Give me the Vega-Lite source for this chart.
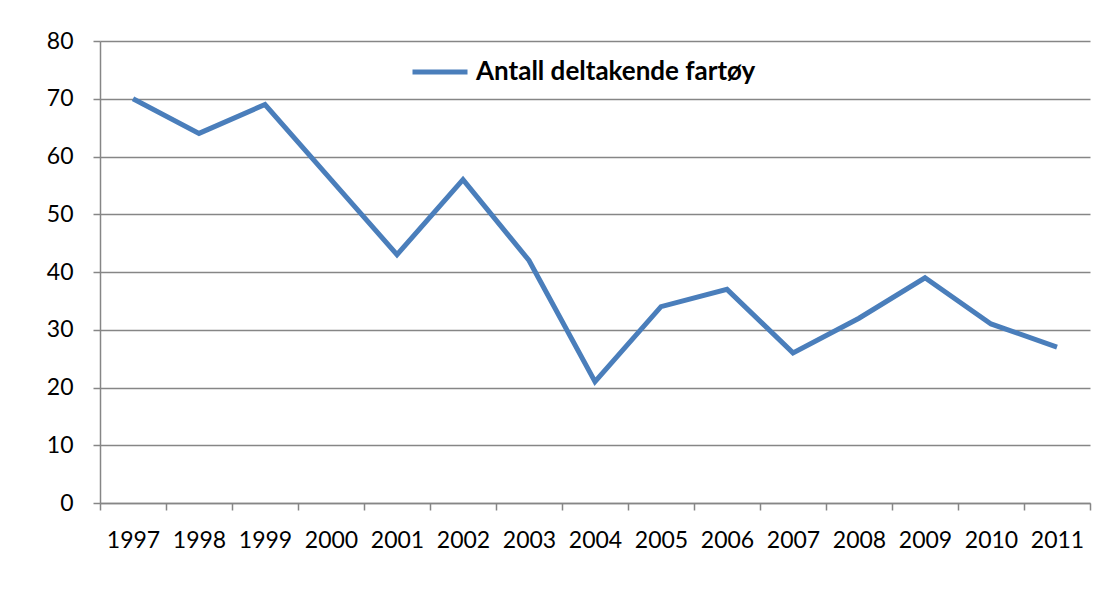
{
  "$schema": "https://vega.github.io/schema/vega-lite/v6.json",
  "autosize": "none",
  "width": 990,
  "height": 462,
  "padding": {"left": 100, "top": 41, "right": 12, "bottom": 107},
  "background": "white",
  "data": {
    "values": [
      {"year": "1997", "value": 70, "series": "Antall deltakende fartøy"},
      {"year": "1998", "value": 64, "series": "Antall deltakende fartøy"},
      {"year": "1999", "value": 69, "series": "Antall deltakende fartøy"},
      {"year": "2000", "value": 56, "series": "Antall deltakende fartøy"},
      {"year": "2001", "value": 43, "series": "Antall deltakende fartøy"},
      {"year": "2002", "value": 56, "series": "Antall deltakende fartøy"},
      {"year": "2003", "value": 42, "series": "Antall deltakende fartøy"},
      {"year": "2004", "value": 21, "series": "Antall deltakende fartøy"},
      {"year": "2005", "value": 34, "series": "Antall deltakende fartøy"},
      {"year": "2006", "value": 37, "series": "Antall deltakende fartøy"},
      {"year": "2007", "value": 26, "series": "Antall deltakende fartøy"},
      {"year": "2008", "value": 32, "series": "Antall deltakende fartøy"},
      {"year": "2009", "value": 39, "series": "Antall deltakende fartøy"},
      {"year": "2010", "value": 31, "series": "Antall deltakende fartøy"},
      {"year": "2011", "value": 27, "series": "Antall deltakende fartøy"}
    ]
  },
  "mark": {"type": "line", "strokeWidth": 5, "strokeJoin": "miter"},
  "encoding": {
    "x": {
      "field": "year",
      "type": "ordinal",
      "scale": {"type": "band", "paddingInner": 0, "paddingOuter": 0},
      "axis": {
        "title": null,
        "labelAngle": 0,
        "labelFont": "Lato",
        "labelFontSize": 23,
        "labelColor": "#000000",
        "labelPadding": 19,
        "tickBand": "extent",
        "tickSize": 7,
        "tickColor": "#868686",
        "tickWidth": 1.5,
        "domainColor": "#868686",
        "domainWidth": 1.5,
        "grid": false
      }
    },
    "y": {
      "field": "value",
      "type": "quantitative",
      "scale": {"domain": [0, 80], "nice": false},
      "axis": {
        "title": null,
        "values": [0, 10, 20, 30, 40, 50, 60, 70, 80],
        "labelFont": "Lato",
        "labelFontSize": 23,
        "labelColor": "#000000",
        "labelPadding": 20,
        "tickSize": 7,
        "tickColor": "#868686",
        "tickWidth": 1.5,
        "domainColor": "#868686",
        "domainWidth": 1.5,
        "grid": true,
        "gridColor": "#868686",
        "gridWidth": 1.5
      }
    },
    "color": {
      "field": "series",
      "type": "nominal",
      "scale": {"range": ["#4a7ebb"]},
      "legend": {
        "title": null,
        "orient": "none",
        "legendX": 310,
        "legendY": 1,
        "symbolType": "stroke",
        "symbolSize": 3025,
        "symbolStrokeWidth": 5,
        "labelFont": "Lato",
        "labelFontWeight": "bold",
        "labelFontSize": 26,
        "labelColor": "#000000",
        "labelOffset": 6,
        "labelLimit": 600
      }
    }
  },
  "config": {"view": {"stroke": null}}
}
